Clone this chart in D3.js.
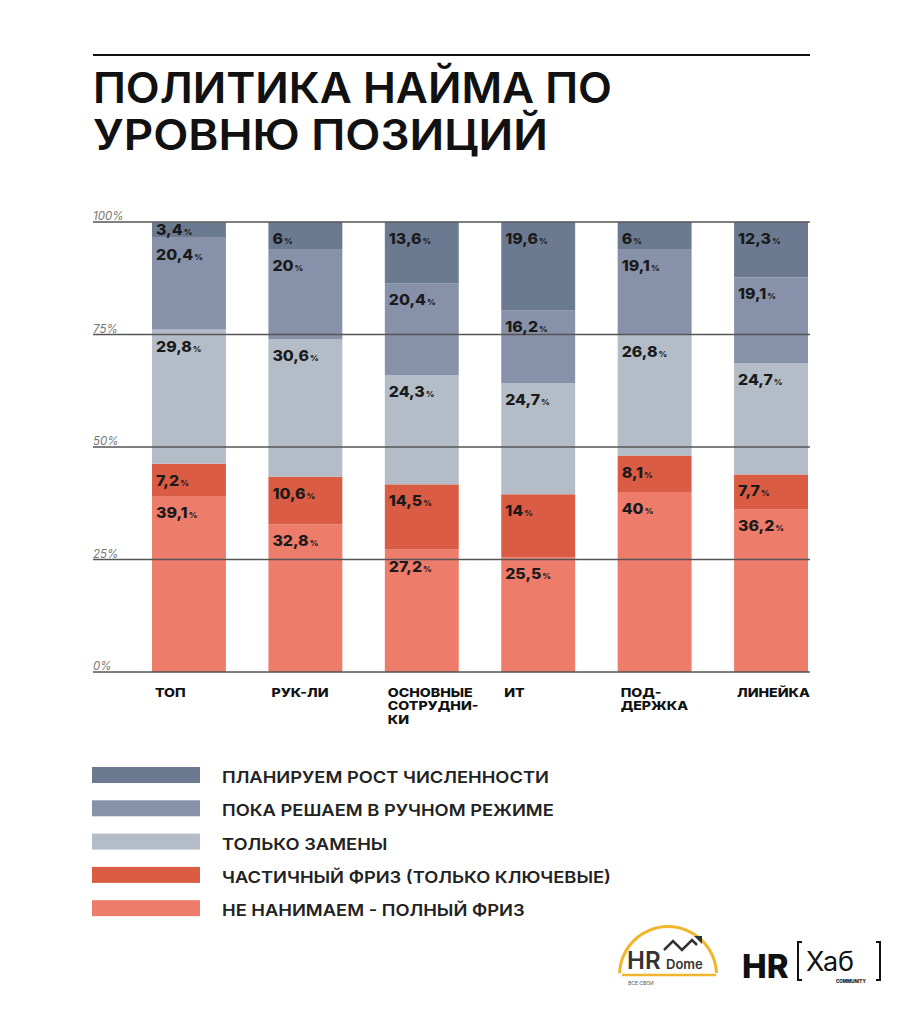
<!DOCTYPE html>
<html>
<head>
<meta charset="utf-8">
<script src="https://cdn.jsdelivr.net/npm/d3@7"></script>
<style>
  html, body { margin: 0; padding: 0; background: #fff; }
  svg { display: block; }
</style>
</head>
<body>
<svg id="chart" width="912" height="1024"></svg>
<script>
const categories = ["ТОП", "РУК-ЛИ", "ОСНОВНЫЕ\nСОТРУДНИ-\nКИ", "ИТ", "ПОД-\nДЕРЖКА", "ЛИНЕЙКА"];
const seriesNames = [
  "НЕ НАНИМАЕМ - ПОЛНЫЙ ФРИЗ",
  "ЧАСТИЧНЫЙ ФРИЗ (ТОЛЬКО КЛЮЧЕВЫЕ)",
  "ТОЛЬКО ЗАМЕНЫ",
  "ПОКА РЕШАЕМ В РУЧНОМ РЕЖИМЕ",
  "ПЛАНИРУЕМ РОСТ ЧИСЛЕННОСТИ"
];
const fullFreeze    = [39.1, 32.8, 27.2, 25.5, 40.0, 36.2];
const partialFreeze = [7.2, 10.6, 14.5, 14.0, 8.1, 7.7];
const replacements  = [29.8, 30.6, 24.3, 24.7, 26.8, 24.7];
const manualMode    = [20.4, 20.0, 20.4, 16.2, 19.1, 19.1];
const growth        = [3.4, 6.0, 13.6, 19.6, 6.0, 12.3];
const yTicks = [0, 25, 50, 75, 100];
const colors = ["#ee7c6b", "#da5c45", "#b4bdc7", "#8791a9", "#6c7a91"];

const seriesValues = [fullFreeze, partialFreeze, replacements, manualMode, growth];
const rows = categories.map((c, i) => {
  const r = { cat: c, idx: i };
  seriesNames.forEach((s, k) => r[s] = seriesValues[k][i]);
  return r;
});
const stack = d3.stack().keys(seriesNames)(rows);

const svg = d3.select("#chart");
const FONT = "Inter, 'Noto Sans', sans-serif";

// helper: text stretched horizontally
function wideText(parent, x, y, sx) {
  return parent.append("g").attr("transform", `translate(${x},${y}) scale(${sx},1)`)
    .append("text").attr("x", 0).attr("y", 0);
}

// top rule
svg.append("line").attr("x1", 93).attr("x2", 810).attr("y1", 55).attr("y2", 55)
  .attr("stroke", "#111").attr("stroke-width", 2.2);

// title
const titleLines = ["ПОЛИТИКА НАЙМА ПО", "УРОВНЮ ПОЗИЦИЙ"];
const titleW = [519, 455];
titleLines.forEach((t, i) => {
  svg.append("text").attr("x", 93).attr("y", 103 + i * 47)
    .attr("font-family", FONT).attr("font-weight", 600).attr("font-size", 42)
    .attr("fill", "#111").attr("textLength", titleW[i]).attr("lengthAdjust", "spacingAndGlyphs")
    .text(t);
});

const x = d3.scaleBand().domain(categories).range([152, 808]).paddingInner(0.365).paddingOuter(0);
const y = d3.scaleLinear().domain([0, 100]).range([672, 222]);

// bars
const g = svg.append("g");
stack.forEach((layer, k) => {
  g.selectAll(null).data(layer).enter().append("rect")
    .attr("x", d => x(d.data.cat))
    .attr("width", x.bandwidth())
    .attr("y", d => y(d[1]))
    .attr("height", d => y(d[0]) - y(d[1]))
    .attr("fill", colors[k]);
});

// gridlines on top
const grid = svg.append("g");
yTicks.forEach(t => {
  grid.append("line").attr("x1", 93).attr("x2", 810).attr("y1", y(t)).attr("y2", y(t))
    .attr("stroke", "#555").attr("stroke-width", 1.5);
  grid.append("text").attr("x", 93).attr("y", y(t) - 2)
    .attr("font-family", FONT).attr("font-size", 11.5).attr("font-style", "italic")
    .attr("fill", "#777").text(t + "%");
});

// value labels
const fmt = v => String(v).replace(".", ",");
stack.forEach((layer, k) => {
  layer.forEach(d => {
    const top = y(d[1]);
    const h = y(d[0]) - y(d[1]);
    const yy = h < 24 ? top + 13 : top + 22;
    const t = wideText(svg, x(d.data.cat) + 4, yy, 1.06)
      .attr("font-family", FONT).attr("font-weight", 800).attr("font-size", 15)
      .attr("fill", "#1a1a1a");
    t.append("tspan").text(fmt(seriesValues[k][d.data.idx]));
    t.append("tspan").attr("font-size", 8).attr("dx", 1).text("%");
  });
});

// category labels
categories.forEach(c => {
  const lines = c.split("\n");
  const t = wideText(svg, x(c) + 3, 697, 1.18)
    .attr("font-family", FONT).attr("font-weight", 800).attr("font-size", 12)
    .attr("fill", "#111");
  lines.forEach((l, i) => t.append("tspan").attr("x", 0).attr("dy", i ? 13.3 : 0).text(l));
});

// legend
const legendOrder = seriesNames.slice().reverse();
const legendColors = colors.slice().reverse();
legendOrder.forEach((s, i) => {
  const yy = 767 + i * 33.3;
  svg.append("rect").attr("x", 92).attr("y", yy).attr("width", 108).attr("height", 16)
    .attr("fill", legendColors[i]);
  wideText(svg, 222, yy + 16, 1.11)
    .attr("font-family", FONT).attr("font-weight", 600).attr("font-size", 16.5)
    .attr("fill", "#222").text(s);
});

// logos
const logo = svg.append("g");
const arc = d3.arc()({innerRadius: 47, outerRadius: 50, startAngle: -Math.PI / 2.05, endAngle: Math.PI / 2.05});
logo.append("path").attr("d", arc).attr("transform", "translate(668,975)")
  .attr("fill", "#f1b52c");
logo.append("line").attr("x1", 622).attr("x2", 716).attr("y1", 975).attr("y2", 975)
  .attr("stroke", "#f1b52c").attr("stroke-width", 2.5);
logo.append("text").attr("x", 627).attr("y", 969).attr("font-family", FONT).attr("font-weight", 600)
  .attr("font-size", 24).attr("fill", "#333").text("HR");
logo.append("text").attr("x", 666).attr("y", 969).attr("font-family", FONT).attr("font-weight", 600)
  .attr("font-size", 13).attr("fill", "#333").text("Dome");
logo.append("path").attr("d", "M664,950 L673,941 L682,950 L692,940 L697,945")
  .attr("fill", "none").attr("stroke", "#333").attr("stroke-width", 2.5);
logo.append("path").attr("d", "M694,936 L702,936 L702,944 Z").attr("fill", "#333");
logo.append("text").attr("x", 628).attr("y", 985).attr("font-family", FONT)
  .attr("font-size", 5).attr("fill", "#555").text("ВСЕ СВОИ");

logo.append("text").attr("x", 742).attr("y", 978).attr("font-family", FONT).attr("font-weight", 800)
  .attr("font-size", 33).attr("fill", "#111").text("HR");
logo.append("path").attr("d", "M802,942 L798,942 L798,980 L802,980").attr("fill", "none")
  .attr("stroke", "#111").attr("stroke-width", 2);
logo.append("path").attr("d", "M876,942 L880,942 L880,980 L876,980").attr("fill", "none")
  .attr("stroke", "#111").attr("stroke-width", 2);
logo.append("text").attr("x", 806).attr("y", 971).attr("font-family", FONT).attr("font-weight", 400)
  .attr("font-size", 27).attr("fill", "#111").text("Хаб");
logo.append("text").attr("x", 836).attr("y", 983).attr("font-family", FONT).attr("font-weight", 800)
  .attr("font-size", 4.5).attr("fill", "#111").text("COMMUNITY");
</script>
</body>
</html>
